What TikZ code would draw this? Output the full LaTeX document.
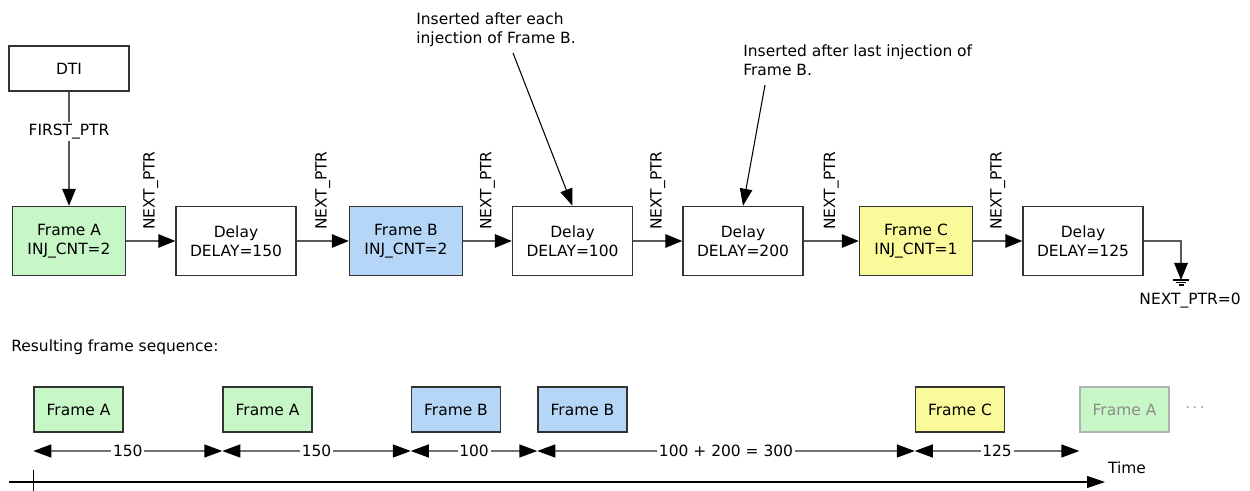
\documentclass[tikz,border=0pt]{standalone}
\usepackage{fontspec}
\setmainfont{DejaVu Sans}
\usepackage{tikz}
\usetikzlibrary{arrows.meta,positioning}
\definecolor{frmA}{RGB}{199,247,199}
\definecolor{frmB}{RGB}{181,214,247}
\definecolor{frmC}{RGB}{250,250,155}

\begin{document}
\begin{tikzpicture}[
  every node/.style={font=\fontsize{8.8}{10.8}\selectfont},
  frm/.style={draw=black!80, line width=0.8pt, minimum width=2.26cm,
              minimum height=1.38cm, align=center, inner sep=0pt},
  dly/.style={frm, fill=white, minimum width=2.4cm},
  seq/.style={draw=black!80, line width=0.8pt, minimum width=1.78cm,
              minimum height=0.9cm, inner sep=0pt},
  arr/.style={-{Triangle[length=0.34cm,width=0.27cm,color=black]},
              draw=black!65, line width=0.8pt},
  dim/.style={{Triangle[length=0.36cm,width=0.26cm,color=black]}-{Triangle[length=0.36cm,width=0.26cm,color=black]},
              draw=black!55, line width=0.8pt},
  nptr/.style={rotate=90, anchor=west, inner xsep=6pt, inner ysep=0pt},
  note/.style={align=left, anchor=north west, inner sep=0pt},
  notearr/.style={-{Triangle[length=0.34cm,width=0.25cm]}, black, line width=0.6pt},
  taxis/.style={black, line width=0.6pt}
]
\useasboundingbox (0,0) rectangle (25,9.82);

% linked list of frames
\node[draw=black!80, line width=0.8pt, minimum width=2.4cm, minimum height=0.9cm] (dti) at (1.38,8.45) {DTI};
\node[frm, fill=frmA] (fa)   at (1.38,5.0)  {Frame A\\INJ\_CNT=2};
\node[dly]            (d150) at (4.72,5.0)  {Delay\\DELAY=150};
\node[frm, fill=frmB] (fb)   at (8.12,5.0)  {Frame B\\INJ\_CNT=2};
\node[dly]            (d100) at (11.45,5.0) {Delay\\DELAY=100};
\node[dly]            (d200) at (14.86,5.0) {Delay\\DELAY=200};
\node[frm, fill=frmC] (fc)   at (18.32,5.0) {Frame C\\INJ\_CNT=1};
\node[dly]            (d125) at (21.66,5.0) {Delay\\DELAY=125};
\coordinate (gnd) at (23.62,4.22);
\node (nul) at (23.8,3.8) {NEXT\_PTR=0};

\draw[arr] (dti) -- node[pos=0.35, fill=white, inner sep=1pt]{FIRST\_PTR} (fa);
\draw[arr] (fa)   -- node[nptr]{NEXT\_PTR} (d150);
\draw[arr] (d150) -- node[nptr]{NEXT\_PTR} (fb);
\draw[arr] (fb)   -- node[nptr]{NEXT\_PTR} (d100);
\draw[arr] (d100) -- node[nptr]{NEXT\_PTR} (d200);
\draw[arr] (d200) -- node[nptr]{NEXT\_PTR} (fc);
\draw[arr] (fc)   -- node[nptr]{NEXT\_PTR} (d125);
\draw[arr] (d125.east) -| (gnd);
\draw[black, line width=0.6pt] ([xshift=-0.16cm]gnd) -- ([xshift=0.16cm]gnd)
  ([shift={(-0.1,-0.05)}]gnd) -- ([shift={(0.1,-0.05)}]gnd)
  ([shift={(-0.05,-0.1)}]gnd) -- ([shift={(0.05,-0.1)}]gnd);

% notes
\node[note] (note1) at (8.32,9.58)  {Inserted after each\\injection of Frame B.};
\node[note] (note2) at (14.86,8.94) {Inserted after last injection of\\Frame B.};
\coordinate (tail1) at (10.26,8.76);
\coordinate (tail2) at (15.3,8.12);
\draw[notearr] (tail1) -- (d100.north);
\draw[notearr] (tail2) -- (d200.north);

% resulting sequence
\node[anchor=base west, inner sep=0pt] (res) at (0.22,2.78) {Resulting frame sequence:};
\node[seq, fill=frmA] (sa1) at (1.57,1.63)  {Frame A};
\node[seq, fill=frmA] (sa2) at (5.35,1.63)  {Frame A};
\node[seq, fill=frmB] (sb1) at (9.12,1.63)  {Frame B};
\node[seq, fill=frmB] (sb2) at (11.65,1.63) {Frame B};
\node[seq, fill=frmC] (sc)  at (19.2,1.63)  {Frame C};
\node[seq, fill=frmA, draw=black!30, text=black!45] (sa3) at (22.49,1.63) {Frame A};
\node[text=black!55] (more) at (23.9,1.66) {$\cdots$};

\coordinate (dimy) at (0,0.8);
\draw[dim] (sa1.south west |- dimy) -- node[fill=white, inner sep=1pt]{150} (sa2.south west |- dimy);
\draw[dim] (sa2.south west |- dimy) -- node[fill=white, inner sep=1pt]{150} (sb1.south west |- dimy);
\draw[dim] (sb1.south west |- dimy) -- node[fill=white, inner sep=1pt]{100} (sb2.south west |- dimy);
\draw[dim] (sb2.south west |- dimy) -- node[fill=white, inner sep=1pt]{100 + 200 = 300} (sc.south west |- dimy);
\draw[dim] (sc.south west |- dimy)  -- node[fill=white, inner sep=1pt]{125} (sa3.south west |- dimy);

% time axis
\coordinate (t0) at (0.18,0.18);
\coordinate (t1) at (22.1,0.18);
\draw[taxis, -{Triangle[length=0.36cm,width=0.24cm]}] (t0) -- (t1);
\draw[taxis] (sa1.south west |- 0,0.42) -- (sa1.south west |- 0,0);
\node (time) at (22.54,0.47) {Time};
\end{tikzpicture}
\end{document}
